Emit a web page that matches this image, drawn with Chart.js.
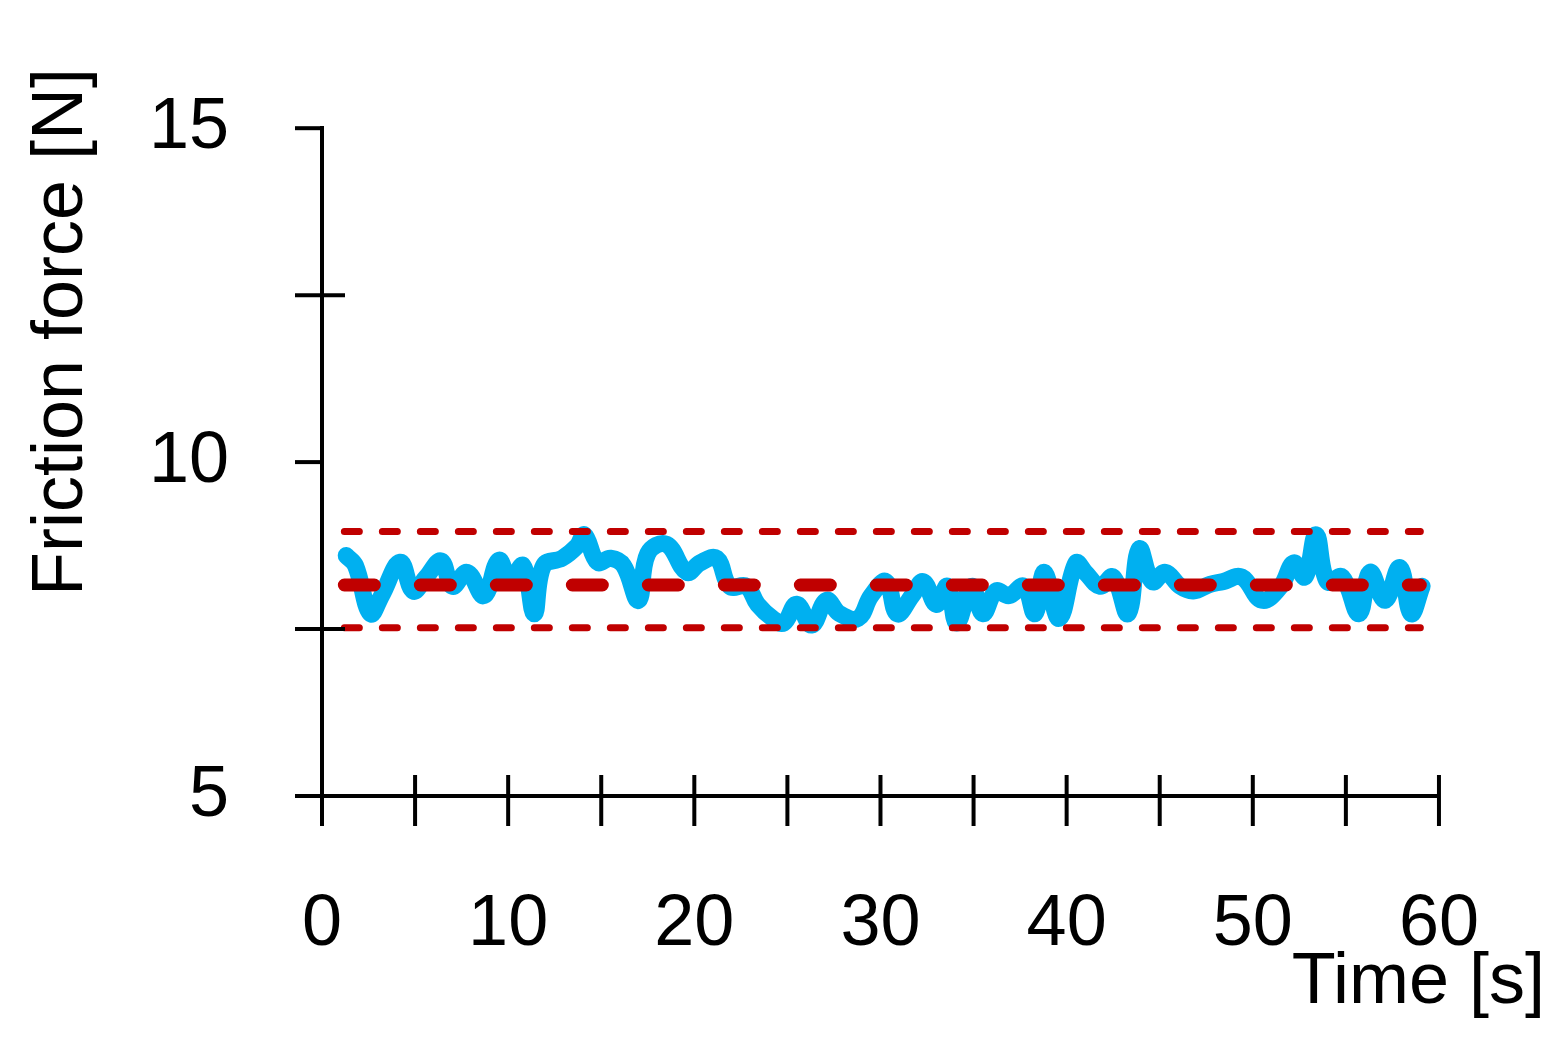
<!DOCTYPE html>
<html><head><meta charset="utf-8">
<script src="https://cdn.jsdelivr.net/npm/chart.js@4"></script>
<style>html,body{margin:0;padding:0;background:#fff}#wrap{width:1557px;height:1049px}</style>
</head><body><div id="wrap"><canvas id="myChart"></canvas></div>
<script>
const timeS = [1.3,1.8,2.6,3.2,4.2,4.9,5.6,6.4,7.0,7.8,8.7,9.5,10.1,10.8,11.4,11.9,12.9,13.7,14.1,14.8,15.5,16.2,17.0,17.5,18.5,19.6,20.3,21.2,21.9,22.8,23.4,24.2,24.8,25.5,26.3,27.1,27.8,28.8,29.5,30.3,30.9,31.7,32.3,33.0,33.6,34.1,34.9,35.5,36.2,36.9,37.7,38.3,38.8,39.6,40.5,41.0,41.8,42.5,43.3,43.9,44.6,45.3,46.1,46.8,47.7,48.4,49.4,50.5,51.5,52.2,52.8,53.4,54.0,54.8,55.7,56.3,57.1,57.9,58.5,59.1];
const forceN = [8.6,8.45,7.73,8.0,8.5,8.07,8.28,8.52,8.14,8.35,8.0,8.53,8.24,8.45,7.73,8.45,8.56,8.74,8.91,8.5,8.56,8.45,7.93,8.63,8.77,8.35,8.49,8.56,8.14,8.14,7.87,7.66,7.59,7.87,7.56,7.93,7.73,7.66,8.0,8.21,7.73,8.0,8.21,7.87,8.14,7.59,8.14,7.73,8.07,8.0,8.14,7.73,8.35,7.66,8.49,8.35,8.14,8.28,7.73,8.7,8.21,8.35,8.14,8.07,8.17,8.21,8.28,7.93,8.14,8.49,8.28,8.91,8.21,8.28,7.73,8.35,7.93,8.42,7.73,8.14];
const lineRange = [1.2, 59.0];
const meanN = 8.16, upperN = 8.96, lowerN = 7.52;
const xTicks = [0,10,20,30,40,50,60];
const yTickLabels = [5,10,15];

const FONT = "'Liberation Sans', sans-serif";
const hline = (v) => lineRange.map(x => ({x, y: v}));

const axisDecor = {
  id: 'axisDecor',
  afterDraw(chart) {
    const {ctx, scales: {x, y}, chartArea: a} = chart;
    ctx.save();
    ctx.strokeStyle = '#000'; ctx.lineWidth = 4;
    for (let v = 0; v <= 60; v += 5) {
      const px = x.getPixelForValue(v);
      ctx.beginPath(); ctx.moveTo(px, a.bottom - 21); ctx.lineTo(px, a.bottom + 30); ctx.stroke();
    }
    for (let v = 5; v <= 15; v += 2.5) {
      const py = y.getPixelForValue(v);
      const major = v % 5 === 0;
      ctx.beginPath(); ctx.moveTo(a.left - 27, py); ctx.lineTo(major ? a.left : a.left + 23, py); ctx.stroke();
    }
    ctx.fillStyle = '#000';
    ctx.font = '72px ' + FONT;
    ctx.textAlign = 'right'; ctx.textBaseline = 'alphabetic';
    ctx.fillText('Time [s]', 1545, 1003);
    ctx.translate(82, 332); ctx.rotate(-Math.PI / 2);
    ctx.textAlign = 'center';
    ctx.fillText('Friction force [N]', 0, 0);
    ctx.restore();
  }
};

new Chart(document.getElementById('myChart'), {
  type: 'line',
  data: {
    datasets: [
      {data: timeS.map((t, i) => ({x: t, y: forceN[i]})), order: 1, borderColor: '#00b0f0', borderWidth: 17, pointRadius: 0, tension: 0.4, borderJoinStyle: 'round', borderCapStyle: 'round'},
      {data: hline(meanN), order: 0, borderColor: '#c00000', borderWidth: 13, borderDash: [30, 46], borderCapStyle: 'round', pointRadius: 0},
      {data: hline(upperN), order: 0, borderColor: '#c00000', borderWidth: 7, borderDash: [15, 23], borderCapStyle: 'round', pointRadius: 0},
      {data: hline(lowerN), order: 0, borderColor: '#c00000', borderWidth: 7, borderDash: [15, 23], borderCapStyle: 'round', pointRadius: 0}
    ]
  },
  options: {
    responsive: true, maintainAspectRatio: false, animation: false,
    layout: {padding: {top: 26, right: 1, left: 0, bottom: 0}},
    plugins: {legend: {display: false}, tooltip: {enabled: false}},
    scales: {
      x: {
        type: 'linear', min: 0, max: 60,
        afterFit: s => { s.height = 253; },
        afterBuildTicks: s => { s.ticks = xTicks.map(v => ({value: v})); },
        grid: {display: false},
        border: {color: '#000', width: 4},
        ticks: {color: '#000', font: {size: 72, family: FONT}, padding: 78, maxRotation: 0}
      },
      y: {
        min: 5, max: 15,
        afterFit: s => { s.width = 322; },
        afterBuildTicks: s => { s.ticks = yTickLabels.map(v => ({value: v})); },
        grid: {display: false},
        border: {color: '#000', width: 4},
        ticks: {color: '#000', font: {size: 72, family: FONT}, padding: 85}
      }
    }
  },
  plugins: [axisDecor]
});
</script></body></html>
